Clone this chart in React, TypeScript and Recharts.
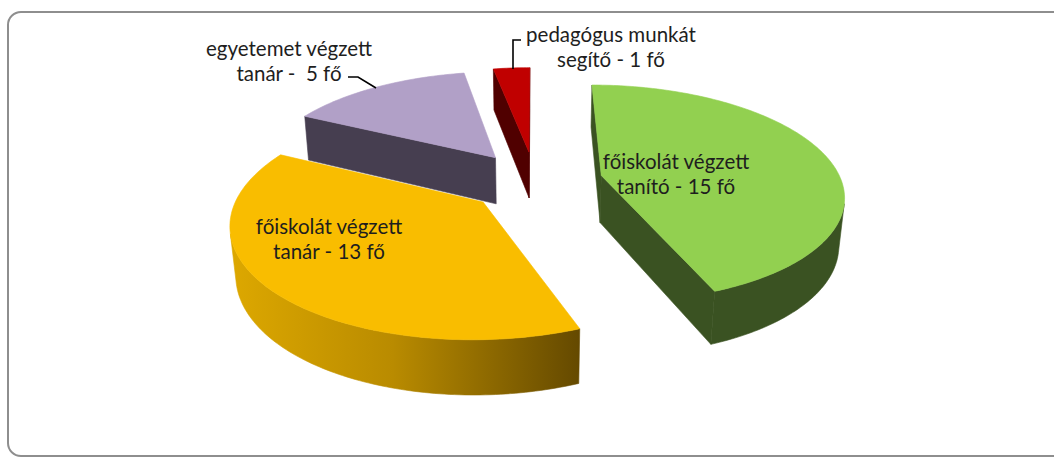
import { PieChart, Pie } from 'recharts'

// staff breakdown (fő)
const categories = [
  'főiskolát végzett tanító',
  'főiskolát végzett tanár',
  'egyetemet végzett tanár',
  'pedagógus munkát segítő',
]
const counts = [15, 13, 5, 1]
const labelLines = [
  ['főiskolát végzett', 'tanító - 15 fő'],
  ['főiskolát végzett', 'tanár - 13 fő'],
  ['egyetemet végzett', 'tanár -  5 fő'],
  ['pedagógus munkát', 'segítő - 1 fő'],
]

const TOP_COLORS = ['#92D050', '#F9BD00', '#B1A0C7', '#C00000']
const SIDE_COLORS = ['#3A5222', 'url(#orangeSide)', '#463E50', '#500000']

// label anchors (first line baseline) and leader lines
const LABEL_POS: [number, number][] = [[676, 169], [329, 234], [289, 56], [611, 42]]
const LEADERS: Record<number, [number, number][]> = {
  2: [[348, 77], [358, 77], [376, 88]],
  3: [[521, 40], [513, 40], [513, 69]],
}

const W = 1054
const H = 457
const CX = 535
const CY = 181
const R = 240
const TILT = (26.5 * Math.PI) / 180
const PERSP = 1300
const DEPTH = 54
const EXPLODE = 68

const data = categories.map((name, i) => ({ name, value: counts[i] }))

type Pt = [number, number]
const rad = (d: number) => (d * Math.PI) / 180

function projector(cx: number, cy: number, midTheta: number) {
  const ox = EXPLODE * Math.sin(rad(midTheta))
  const oy = EXPLODE * Math.cos(rad(midTheta))
  return (r: number, theta: number, z: number): Pt => {
    const X = ox + r * Math.sin(rad(theta))
    const Y = oy + r * Math.cos(rad(theta))
    const v = Y * Math.sin(TILT) + z * Math.cos(TILT)
    const w = -Y * Math.cos(TILT) + z * Math.sin(TILT)
    const f = PERSP / (PERSP - w)
    return [cx + X * f, cy - v * f]
  }
}

const area = (pts: Pt[]) =>
  pts.reduce((s, p, i) => {
    const q = pts[(i + 1) % pts.length]
    return s + p[0] * q[1] - q[0] * p[1]
  }, 0)

const toPath = (pts: Pt[]) =>
  pts.map((p, i) => `${i ? 'L' : 'M'}${p[0].toFixed(2)},${p[1].toFixed(2)}`).join('') + 'Z'

function arcThetas(t0: number, t1: number) {
  const n = Math.max(2, Math.ceil(t1 - t0))
  return Array.from({ length: n + 1 }, (_, k) => t0 + ((t1 - t0) * k) / n)
}

function sliceGeom(props: any) {
  const { cx, cy, startAngle, endAngle } = props
  const t0 = 90 - Math.max(startAngle, endAngle)
  const t1 = 90 - Math.min(startAngle, endAngle)
  const P = projector(cx, cy, (t0 + t1) / 2)
  return { t0, t1, P, r: props.outerRadius as number }
}

function renderSides(props: any) {
  const { t0, t1, P, r } = sliceGeom(props)
  const i = props.index as number
  const faces: Pt[][] = []

  const startFace = [P(0, t0, 0), P(r, t0, 0), P(r, t0, -DEPTH), P(0, t0, -DEPTH)]
  if (area(startFace) < 0) faces.push(startFace)
  const endFace = [P(0, t1, 0), P(r, t1, 0), P(r, t1, -DEPTH), P(0, t1, -DEPTH)]
  if (area(endFace) > 0) faces.push(endFace)

  // outer wall, only the parts facing the viewer
  const ts = arcThetas(t0, t1)
  let run: number[] = []
  const flush = () => {
    if (run.length > 1) {
      const top = run.map((t) => P(r, t, 0))
      const bot = run.slice().reverse().map((t) => P(r, t, -DEPTH))
      faces.push([...top, ...bot])
    }
    run = []
  }
  for (let k = 0; k < ts.length - 1; k++) {
    const a = ts[k]
    const b = ts[k + 1]
    const q = [P(r, a, 0), P(r, b, 0), P(r, b, -DEPTH), P(r, a, -DEPTH)]
    if (area(q) < 0) {
      if (!run.length) run.push(a)
      run.push(b)
    } else flush()
  }
  flush()

  return (
    <g key={`side-${i}`}>
      {i === 1 && (
        <defs>
          <linearGradient id="orangeSide" gradientUnits="userSpaceOnUse" x1={230} y1={0} x2={592} y2={0}>
            <stop offset="0" stopColor="#DDA800" />
            <stop offset="0.45" stopColor="#B98B00" />
            <stop offset="1" stopColor="#5F4500" />
          </linearGradient>
        </defs>
      )}
      {faces.map((f, k) => (
        <path key={k} d={toPath(f)} fill={SIDE_COLORS[i]} stroke={SIDE_COLORS[i]} strokeWidth={0.6} />
      ))}
    </g>
  )
}

function renderTop(props: any) {
  const { t0, t1, P, r } = sliceGeom(props)
  const i = props.index as number
  const pts = [P(0, t0, 0), ...arcThetas(t0, t1).map((t) => P(r, t, 0))]
  return <path key={`top-${i}`} d={toPath(pts)} fill={TOP_COLORS[i]} stroke={TOP_COLORS[i]} strokeWidth={0.6} />
}

function renderText(props: any) {
  const i = props.index as number
  const [x, y] = LABEL_POS[i]
  const leader = LEADERS[i]
  return (
    <g key={`lbl-${i}`}>
      {leader && (
        <polyline points={leader.map((p) => p.join(',')).join(' ')} fill="none" stroke="#000" strokeWidth={1.6} />
      )}
      <text
        x={x}
        y={y}
        textAnchor="middle"
        fontFamily="Lato, 'Noto Sans', sans-serif"
        fontSize={20.5}
        fill="#1e1e1e"
        style={{ whiteSpace: 'pre' }}
      >
        {labelLines[i].map((line, k) => (
          <tspan key={k} x={x} dy={k === 0 ? 0 : 24.5}>
            {line}
          </tspan>
        ))}
      </text>
    </g>
  )
}

export default function App() {
  const pieProps = {
    data,
    dataKey: 'value',
    nameKey: 'name',
    cx: CX,
    cy: CY,
    innerRadius: 0,
    outerRadius: R,
    startAngle: 90,
    endAngle: -270,
    fill: 'transparent',
    stroke: 'none',
    labelLine: false,
    isAnimationActive: false,
  }
  return (
    <div style={{ position: 'fixed', left: 0, top: 0, width: W, height: H, overflow: 'hidden', background: '#fff' }}>
      <div
        style={{
          position: 'absolute',
          left: 7,
          top: 11,
          width: 1060,
          height: 442,
          border: '2px solid #8e8e8e',
          borderRadius: 14,
        }}
      />
      <div style={{ position: 'absolute', left: 0, top: 0 }}>
        <PieChart width={W} height={H} margin={{ top: 0, right: 0, bottom: 0, left: 0 }}>
          <Pie {...pieProps} label={renderSides} />
          <Pie {...pieProps} label={renderTop} />
          <Pie {...pieProps} label={renderText} />
        </PieChart>
      </div>
    </div>
  )
}
